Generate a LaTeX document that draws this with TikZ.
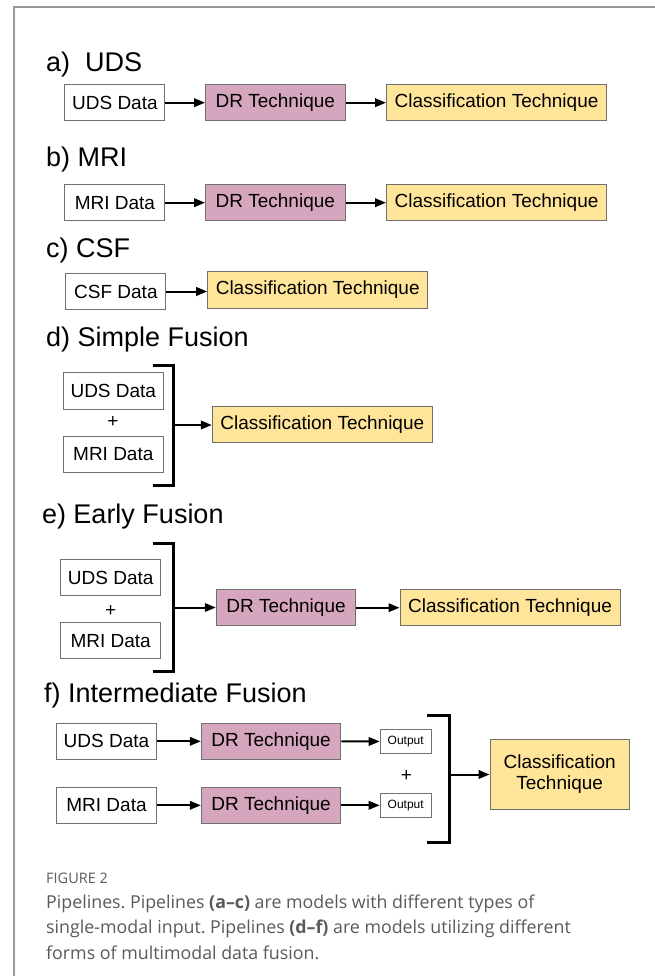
\documentclass[tikz,border=0pt]{standalone}
\usepackage{fontspec}
\setmainfont{Liberation Sans}
\newfontfamily\capfont[Ligatures=TeX]{Open Sans}
\usetikzlibrary{arrows.meta}
\frenchspacing

\definecolor{drfill}{HTML}{D5A6BD}
\definecolor{clfill}{HTML}{FFE599}
\definecolor{boxline}{HTML}{6F6F6F}
\definecolor{capgray}{HTML}{5A5A5A}
\definecolor{framegray}{HTML}{9A9A9A}

\tikzset{
  box/.style={draw=boxline, line width=1pt, inner sep=0pt, align=center,
    font=\fontsize{19}{21}\selectfont},
  databox/.style={box, fill=white, minimum width=100pt, minimum height=36.5pt},
  drbox/.style={box, fill=drfill, minimum width=139.5pt, minimum height=36.5pt},
  clbox/.style={box, fill=clfill, minimum width=220pt, minimum height=36.5pt},
  outbox/.style={box, fill=white, minimum width=51pt, minimum height=24pt,
    font=\fontsize{12}{14}\selectfont},
  title/.style={anchor=base west, inner sep=0pt, font=\fontsize{27}{30}\selectfont},
  plus/.style={inner sep=0pt, font=\fontsize{19}{21}\selectfont},
  arr/.style={line width=2pt, -{Triangle[length=11pt,width=8.5pt]}},
  brk/.style={line width=3pt, line join=miter},
  captxt/.style={anchor=base west, inner sep=0pt, text=capgray,
    font=\capfont\fontsize{17.8}{21}\selectfont},
}

\begin{document}
\begin{tikzpicture}[x=1pt, y=-1pt]
\useasboundingbox[fill=white] (0,0) rectangle (655,976);

% outer frame (top and left edges)
\draw[framegray, line width=2pt] (655,7.5) -- (13.8,7.5) -- (13.8,976);

% a) UDS
\node[title] (ta) at (46,71.7) {a)\ \ UDS};
\node[databox] (ua) at (114.9,102.7) {UDS Data};
\node[drbox] (dra) at (275.3,102.7) {DR Technique};
\node[clbox] (cla) at (496.5,102.7) {Classification Technique};
\draw[arr] (ua) -- (dra);
\draw[arr] (dra) -- (cla);

% b) MRI
\node[title] (tb) at (46,166.7) {b) MRI};
\node[databox] (mb) at (114.9,202.7) {MRI Data};
\node[drbox] (drb) at (275.3,202.7) {DR Technique};
\node[clbox] (clb) at (496.5,202.7) {Classification Technique};
\draw[arr] (mb) -- (drb);
\draw[arr] (drb) -- (clb);

% c) CSF
\node[title] (tc) at (46,257) {c) CSF};
\node[databox] (cc) at (115.9,291.5) {CSF Data};
\node[clbox] (clc) at (317.7,290) {Classification Technique};
\draw[arr] (cc) -- (cc -| clc.west);

% d) Simple Fusion
\node[title] (td) at (46,346) {d) Simple Fusion};
\node[databox] (ud) at (113.3,391) {UDS Data};
\node[plus] (pd) at (112.8,421.7) {+};
\node[databox] (md) at (113.3,454.3) {MRI Data};
\draw[brk] (152.5,365) -- (173.3,365) -- (173.3,485) -- (152.5,485);
\coordinate (bd) at (173.3,425);
\node[clbox] (cld) at (322.3,424.7) {Classification Technique};
\draw[arr] (bd) -- (bd -| cld.west);

% e) Early Fusion
\node[title] (te) at (41.8,523.3) {e) Early Fusion};
\node[databox] (ue) at (110.7,577.5) {UDS Data};
\node[plus] (pe) at (110.7,610.7) {+};
\node[databox] (me) at (110.7,640.7) {MRI Data};
\draw[brk] (152.5,543.3) -- (173.3,543.3) -- (173.3,671.7) -- (152.5,671.7);
\coordinate (be) at (173.3,607.5);
\node[drbox] (dre) at (286,607.7) {DR Technique};
\node[clbox] (cle) at (510,607.7) {Classification Technique};
\draw[arr] (be) -- (be -| dre.west);
\draw[arr] (dre) -- (cle);

% f) Intermediate Fusion
\node[title] (tf) at (43.9,702.7) {f) Intermediate Fusion};
\node[databox] (uf) at (106.5,741.3) {UDS Data};
\node[drbox] (drf1) at (271.1,741.3) {DR Technique};
\node[outbox] (of1) at (405.7,741.5) {Output};
\node[databox] (mf) at (106.5,805.3) {MRI Data};
\node[drbox] (drf2) at (271.1,805.3) {DR Technique};
\node[outbox] (of2) at (405.7,805.3) {Output};
\node[plus] (pf) at (406.5,776) {+};
\draw[arr] (uf) -- (drf1);
\draw[arr] (drf1) -- (of1);
\draw[arr] (mf) -- (drf2);
\draw[arr] (drf2) -- (of2);
\draw[brk] (427,715) -- (449.5,715) -- (449.5,842.7) -- (427,842.7);
\coordinate (bf) at (449.5,774.5);
\node[box, fill=clfill, minimum width=139.3pt, minimum height=70pt] (clf)
  at (559.7,774) {Classification\\Technique};
\draw[arr] (bf) -- (bf -| clf.west);

% caption
\node[captxt, font=\capfont\fontsize{14.5}{16}\selectfont] (cap0) at (46,883.3) {FIGURE 2};
\node[captxt] (cap1) at (46,908.3) {Pipelines. Pipelines \textbf{(a–c)} are models with different types of};
\node[captxt] (cap2) at (46,933.5) {single-modal input. Pipelines \textbf{(d–f)} are models utilizing different};
\node[captxt] (cap3) at (46,959) {forms of multimodal data fusion.};
\end{tikzpicture}
\end{document}
